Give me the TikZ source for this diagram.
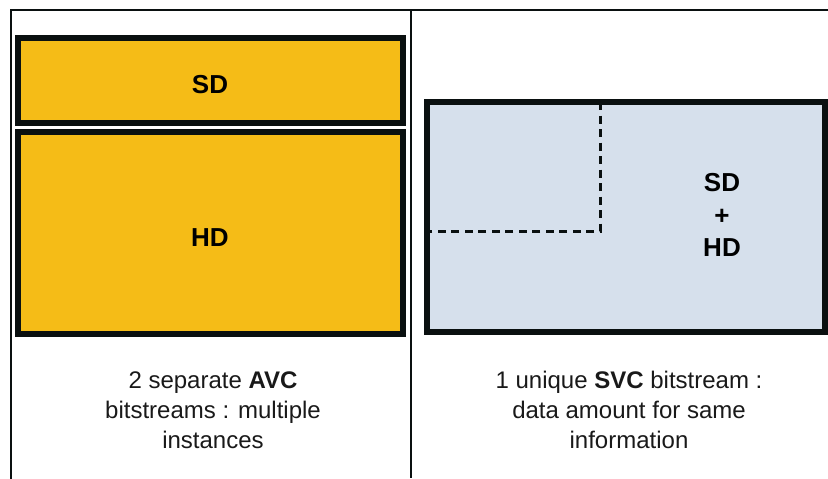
\documentclass[tikz,border=0pt]{standalone}
\usepackage{fontspec}
\setmainfont{Liberation Sans}
\definecolor{edge}{HTML}{0A1010}
\definecolor{avcfill}{HTML}{F5BC17}
\definecolor{svcfill}{HTML}{D6E0EC}
\tikzset{
  stream/.style={draw=edge, line width=6pt, inner sep=0pt, outer sep=0pt},
  avcbox/.style={stream, fill=avcfill},
  svcbox/.style={stream, fill=svcfill},
  boxlabel/.style={font=\fontsize{26}{32}\selectfont\bfseries, align=center, text=black},
  caption/.style={font=\fontsize{24}{30}\selectfont, align=center, text=black!90},
  frame/.style={draw=edge, line width=2pt},
  layer/.style={draw=edge, line width=3pt, dash pattern=on 8pt off 5.5pt},
}
\begin{document}
\begin{tikzpicture}[x=1pt, y=-1pt]
  \useasboundingbox (0,0) rectangle (828,479);

  % outer frame and column divider
  \coordinate (fl) at (11,479);
  \coordinate (ftl) at (11,10);
  \coordinate (ftr) at (828,10);
  \coordinate (mt) at (411,10);
  \coordinate (mb) at (411,478);
  \draw[frame] (fl) -- (ftl) -- (ftr);
  \draw[frame] (mt) -- (mb);

  % two separate AVC streams
  \node[avcbox, minimum width=385pt, minimum height=85pt] (sd) at (210.5,80.5) {};
  \node[avcbox, minimum width=385pt, minimum height=202pt] (hd) at (210.5,233) {};
  \node[boxlabel] (sdt) at (210,85) {SD};
  \node[boxlabel] (hdt) at (210,238) {HD};

  % one scalable SVC stream
  \node[svcbox, minimum width=398pt, minimum height=230pt] (svc) at (626,217) {};
  \coordinate (corner) at (600,231);
  \draw[layer] (svc.north -| corner) -- (corner) -- (svc.west |- corner);
  \node[boxlabel, font=\fontsize{26}{32.5}\selectfont\bfseries] (svct) at (722,215) {SD\\+\\HD};

  % captions
  \node[caption] (capl) at (213,410) {2 separate \textbf{AVC}\\bitstreams : multiple\\instances};
  \node[caption] (capr) at (629,410) {1 unique \textbf{SVC} bitstream :\\data amount for same\\information};
\end{tikzpicture}
\end{document}
